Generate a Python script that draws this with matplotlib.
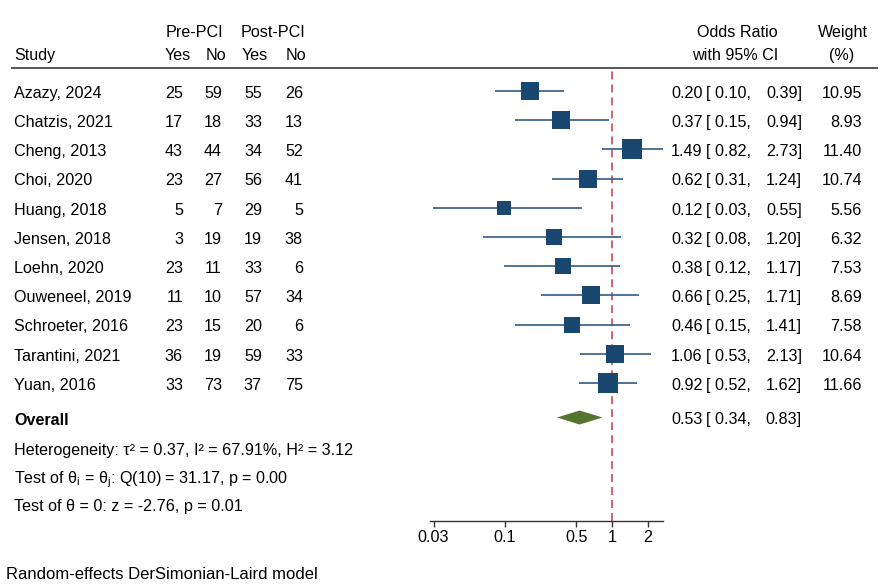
import numpy as np
import matplotlib
matplotlib.use("Agg")
import matplotlib.pyplot as plt
from matplotlib.ticker import NullLocator

plt.rcParams['font.family'] = ['Liberation Sans', 'DejaVu Sans']
plt.rcParams['mathtext.fontset'] = 'custom'
plt.rcParams['mathtext.rm'] = 'Liberation Sans'
plt.rcParams['mathtext.it'] = 'Liberation Sans:italic'
FS = 11.6

# data
studies = ["Azazy, 2024", "Chatzis, 2021", "Cheng, 2013", "Choi, 2020", "Huang, 2018",
           "Jensen, 2018", "Loehn, 2020", "Ouweneel, 2019", "Schroeter, 2016",
           "Tarantini, 2021", "Yuan, 2016"]
pre_yes = [25, 17, 43, 23, 5, 3, 23, 11, 23, 36, 33]
pre_no = [59, 18, 44, 27, 7, 19, 11, 10, 15, 19, 73]
post_yes = [55, 33, 34, 56, 29, 19, 33, 57, 20, 59, 37]
post_no = [26, 13, 52, 41, 5, 38, 6, 34, 6, 33, 75]
odds = [0.20, 0.37, 1.49, 0.62, 0.12, 0.32, 0.38, 0.66, 0.46, 1.06, 0.92]
ci_lo = [0.10, 0.15, 0.82, 0.31, 0.03, 0.08, 0.12, 0.25, 0.15, 0.53, 0.52]
ci_hi = [0.39, 0.94, 2.73, 1.24, 0.55, 1.20, 1.17, 1.71, 1.41, 2.13, 1.62]
weights = [10.95, 8.93, 11.40, 10.74, 5.56, 6.32, 7.53, 8.69, 7.58, 10.64, 11.66]
overall = (0.53, 0.34, 0.83)
tick_vals = np.exp([-3.5, -2.1, -0.7, 0, 0.7])
tick_labels = ["0.03", "0.1", "0.5", "1", "2"]

W, H = 894, 586
fig = plt.figure(figsize=(W / 100, H / 100), dpi=100)

navy = "#1a476f"
ci_col = "#2e5c86"
green = "#55752f"
red = "#c43a4c"

# forest axes (log scale), placed in pixel box
px_per_ln = 51.0
x_one = 612.0
ax_left, ax_right, ax_top, ax_bot = 430, 663, 68, 521
ax = fig.add_axes([ax_left / W, 1 - ax_bot / H, (ax_right - ax_left) / W, (ax_bot - ax_top) / H])
ax.set_xscale('log')
ax.set_xlim(np.exp((ax_left - x_one) / px_per_ln), np.exp((ax_right - x_one) / px_per_ln))
ax.set_ylim(ax_bot, ax_top)
for s in ['top', 'left', 'right']:
    ax.spines[s].set_visible(False)
ax.spines['bottom'].set_color('#333333')
ax.spines['bottom'].set_linewidth(1.0)
ax.set_yticks([])
ax.set_xticks(tick_vals)
ax.set_xticklabels(tick_labels, fontsize=FS)
ax.xaxis.set_minor_locator(NullLocator())
ax.tick_params(axis='x', length=4.3, width=1.0, color='#333333', pad=2)
ax.patch.set_alpha(0)

row_y = 91 + 29.2 * np.arange(len(studies))
overall_y = 417.5

ax.axvline(1, color=red, lw=1.1, ls=(0, (5.2, 3.3)), zorder=1)
ax.hlines(row_y, ci_lo, ci_hi, color=ci_col, lw=1.2, zorder=2)
for i in range(len(studies)):
    side_px = 4.4 + 4.35 * np.sqrt(weights[i])
    ax.plot(odds[i], row_y[i], marker='s', ms=side_px * 0.72, color=navy,
            mec=navy, mew=0, ls='none', zorder=3)
ax.fill([overall[1], overall[0], overall[2], overall[0]],
        [overall_y, overall_y - 7, overall_y, overall_y + 7], color=green, lw=0, zorder=3)


def txt(x, y, s, ha='left', fs=FS, **kw):
    # y is the centre of the capitals, in pixels from the top
    fig.text(x / W, 1 - (y + 0.358 * fs * 100 / 72) / H, s, ha=ha, va='baseline',
             fontsize=fs, **kw)


# header
txt(194, 31, "Pre-PCI", ha='center')
txt(273, 31, "Post-PCI", ha='center')
txt(14, 54, "Study")
txt(177.5, 54, "Yes", ha='center')
txt(215.5, 54, "No", ha='center')
txt(255, 54, "Yes", ha='center')
txt(296, 54, "No", ha='center')
txt(778, 31, "Odds Ratio", ha='right')
txt(778, 54, "with 95% CI", ha='right')
txt(842.5, 31, "Weight", ha='center')
txt(842, 54, "(%)", ha='center')
fig.add_artist(plt.Line2D([12 / W, 877 / W], [1 - 68 / H, 1 - 68 / H], color='#555555', lw=1.4))

for i, name in enumerate(studies):
    y = row_y[i] + 1
    txt(14, y, name)
    txt(183, y, str(pre_yes[i]), ha='right')
    txt(222, y, str(pre_no[i]), ha='right')
    txt(262, y, str(post_yes[i]), ha='right')
    txt(303, y, str(post_no[i]), ha='right')
    txt(671, y, f"{odds[i]:.2f}")
    txt(706, y, f"[{ci_lo[i]:5.2f},")
    txt(802, y, f"{ci_hi[i]:.2f}]", ha='right')
    txt(862, y, f"{weights[i]:.2f}", ha='right')

txt(14, 419, "Overall", fontweight='bold')
txt(671, 418, f"{overall[0]:.2f}")
txt(706, 418, f"[{overall[1]:5.2f},")
txt(802, 418, f"{overall[2]:.2f}]", ha='right')
txt(14, 449, "Heterogeneity: τ² = 0.37, I² = 67.91%, H² = 3.12")
txt(14, 478, r"Test of θ$_\mathregular{i}$ = θ$_\mathregular{j}$: Q(10) = 31.17, p = 0.00")
txt(14, 505, "Test of θ = 0: z = -2.76, p = 0.01")
txt(6, 573, "Random-effects DerSimonian-Laird model", fs=12.0)

fig.savefig("out.png", dpi=100)
